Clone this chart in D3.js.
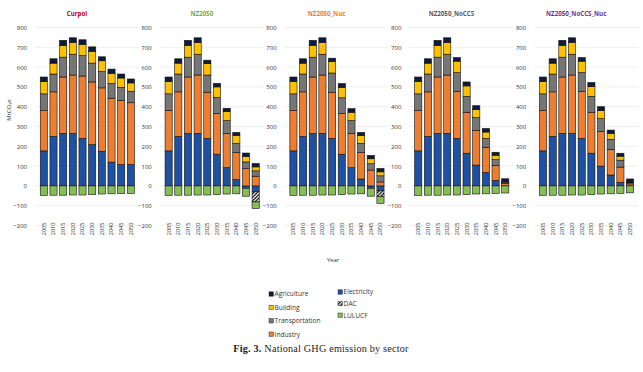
<!DOCTYPE html>
<html>
<head>
<meta charset="utf-8">
<script src="https://cdn.jsdelivr.net/npm/d3@7"></script>
<style>
  body { margin: 0; background: #fff; }
  text { font-family: "Open Sans", "Liberation Sans", sans-serif; }
  text.caption { font-family: "Liberation Serif", "DejaVu Serif", serif; }
</style>
</head>
<body>
<div id="plot"></div>
<script>
let years = [2005, 2010, 2015, 2020, 2025, 2030, 2035, 2040, 2045, 2050]
let scenarios = ["Curpol", "NZ2050", "NZ2050_Nuc", "NZ2050_NoCCS", "NZ2050_NoCCS_Nuc"]
let titleColors = ["#c00000", "#70ad47", "#ed7d31", "#595959", "#7030a0"]
let yTicks = [-200, -100, 0, 100, 200, 300, 400, 500, 600, 700, 800]

// one row per scenario, in the order above
let electricity = [
  [177, 250, 265, 265, 240, 208, 175, 120, 108, 108],
  [177, 250, 265, 265, 240, 160, 92, 32, -12, -30],
  [177, 250, 265, 265, 240, 160, 92, 35, -12, -25],
  [177, 250, 265, 265, 240, 165, 105, 68, 28, 0],
  [177, 250, 265, 265, 240, 165, 100, 55, 18, 0]
]
let industry = [
  [203, 225, 285, 295, 315, 317, 320, 323, 324, 312],
  [203, 225, 285, 295, 233, 205, 173, 136, 87, 49],
  [203, 225, 285, 295, 233, 205, 173, 133, 80, 20],
  [203, 225, 285, 295, 238, 207, 175, 127, 75, 12],
  [203, 225, 285, 295, 238, 207, 175, 130, 77, 10]
]
let transportation = [
  [85, 90, 100, 105, 103, 95, 83, 75, 66, 58],
  [85, 90, 100, 105, 87, 82, 65, 47, 34, 27],
  [85, 90, 100, 105, 97, 80, 65, 47, 32, 31],
  [85, 90, 100, 105, 94, 80, 65, 45, 30, 5],
  [85, 90, 100, 105, 94, 80, 65, 50, 35, 6]
]
let building = [
  [62, 55, 60, 60, 57, 60, 54, 50, 47, 42],
  [62, 55, 60, 60, 58, 53, 45, 40, 28, 20],
  [62, 55, 60, 60, 58, 53, 42, 40, 25, 20],
  [62, 55, 60, 60, 58, 53, 40, 32, 22, 3],
  [62, 55, 60, 60, 58, 50, 40, 30, 20, 3]
]
let agriculture = [
  [23, 22, 25, 23, 23, 22, 20, 22, 20, 20],
  [23, 22, 25, 23, 17, 18, 17, 15, 17, 17],
  [23, 22, 25, 23, 17, 19, 18, 15, 17, 17],
  [23, 22, 25, 23, 18, 20, 20, 18, 15, 16],
  [23, 22, 25, 23, 18, 20, 20, 17, 15, 16]
]
let dac = [
  [0, 0, 0, 0, 0, 0, 0, 0, 0, 0],
  [0, 0, 0, 0, 0, 0, 0, 0, 0, -51],
  [0, 0, 0, 0, 0, 0, 0, 0, 0, -28],
  [0, 0, 0, 0, 0, 0, 0, 0, 0, 0],
  [0, 0, 0, 0, 0, 0, 0, 0, 0, 0]
]
let lulucf = [
  [-48, -47, -47, -46, -46, -44, -41, -40, -39, -38],
  [-48, -47, -47, -46, -46, -44, -41, -40, -40, -33],
  [-48, -47, -47, -46, -46, -44, -41, -40, -40, -35],
  [-48, -47, -47, -46, -46, -44, -41, -40, -38, -36],
  [-48, -47, -47, -46, -46, -44, -41, -40, -38, -35]
]

let keys = ["Electricity", "Industry", "Transportation", "Building", "Agriculture", "DAC", "LULUCF"]
let sources = [electricity, industry, transportation, building, agriculture, dac, lulucf]
let colors = {
  Electricity: "#1f51a3",
  Industry: "#ed7d31",
  Transportation: "#767676",
  Building: "#ffc000",
  Agriculture: "#0d1a3c",
  DAC: "url(#hatch)",
  LULUCF: "#86bd54"
}

let svgWidth = 643
let svgHeight = 372

let svg = d3.select("#plot")
  .append("svg")
  .attr("width", svgWidth)
  .attr("height", svgHeight)

let hatch = svg.append("defs").append("pattern")
  .attr("id", "hatch")
  .attr("patternUnits", "userSpaceOnUse")
  .attr("width", 2.5)
  .attr("height", 2.5)
  .attr("patternTransform", "rotate(45)")
hatch.append("rect").attr("width", 2.5).attr("height", 2.5).attr("fill", "#fff")
hatch.append("rect").attr("width", 1.2).attr("height", 2.5).attr("fill", "#000")

let yScale = d3.scaleLinear()
  .domain([-200, 800])
  .range([225.5, 27.5])

let stack = d3.stack()
  .keys(keys)
  .offset(d3.stackOffsetDiverging)

scenarios.forEach(function(name, s) {
  let x0 = 39 + s * 124.8
  let xScale = d3.scaleBand()
    .domain(years)
    .range([x0, x0 + 96.7])
    .paddingInner(0.26)
    .paddingOuter(0.13)

  let rows = years.map(function(yr, i) {
    let row = { year: yr }
    keys.forEach((k, j) => row[k] = sources[j][s][i])
    return row
  })

  let panel = svg.append("g")

  panel.append("g")
    .selectAll("line")
    .data(yTicks)
    .enter()
    .append("line")
    .attr("x1", x0 - 4)
    .attr("x2", x0 + 100)
    .attr("y1", d => yScale(d))
    .attr("y2", d => yScale(d))
    .attr("stroke", "#e3e3e3")
    .attr("stroke-width", 0.6)

  let yAxis = d3.axisLeft(yScale)
    .tickValues(yTicks)
    .tickSize(0)
    .tickPadding(0)

  panel.append("g")
    .attr("transform", `translate(${x0 - 12}, 0)`)
    .call(yAxis)
    .call(g => g.select(".domain").remove())
    .selectAll("text")
    .attr("font-size", 6)
    .attr("fill", "#333")

  let xAxis = d3.axisBottom(xScale).tickSize(0).tickPadding(0)

  panel.append("g")
    .attr("transform", `translate(0, ${yScale(-200) - 3})`)
    .call(xAxis)
    .call(g => g.select(".domain").remove())
    .selectAll("text")
    .attr("font-size", 5.6)
    .attr("fill", "#333")
    .attr("text-anchor", "end")
    .attr("transform", "rotate(-90)")
    .attr("x", 0)
    .attr("y", 0)
    .attr("dx", 0)
    .attr("dy", "0.35em")

  panel.selectAll(".layer")
    .data(stack(rows))
    .enter()
    .append("g")
    .attr("fill", d => colors[d.key])
    .selectAll("rect")
    .data(d => d.filter(p => p[1] !== p[0]))
    .enter()
    .append("rect")
    .attr("x", d => xScale(d.data.year))
    .attr("width", xScale.bandwidth())
    .attr("y", d => yScale(Math.max(d[0], d[1])))
    .attr("height", d => Math.abs(yScale(d[0]) - yScale(d[1])))
    .attr("stroke", "#111")
    .attr("stroke-width", 0.6)

  panel.append("text")
    .attr("x", x0 + 38)
    .attr("y", 16)
    .attr("text-anchor", "middle")
    .attr("font-size", 6.2)
    .attr("font-weight", "bold")
    .attr("fill", titleColors[s])
    .text(name)
})

svg.append("text")
  .attr("transform", "translate(11, 110) rotate(-90)")
  .attr("text-anchor", "middle")
  .attr("font-size", 6)
  .attr("fill", "#333")
  .text("MtCO₂e")

svg.append("text")
  .attr("x", 333)
  .attr("y", 262)
  .attr("text-anchor", "middle")
  .attr("font-size", 6)
  .attr("fill", "#333")
  .text("Year")

// legend
let legendCols = [
  { keys: ["Agriculture", "Building", "Transportation", "Industry"], x: 269, y: 294, dy: 13.4 },
  { keys: ["Electricity", "DAC", "LULUCF"], x: 338, y: 292, dy: 11.6 }
]
legendCols.forEach(function(col) {
  let items = svg.append("g").selectAll("g")
    .data(col.keys)
    .enter()
    .append("g")
    .attr("transform", (d, i) => `translate(${col.x}, ${col.y + i * col.dy})`)
  items.append("rect")
    .attr("x", 0)
    .attr("y", -2.2)
    .attr("width", 4.4)
    .attr("height", 4.4)
    .attr("fill", d => colors[d])
    .attr("stroke", "#333")
    .attr("stroke-width", 0.5)
  items.append("text")
    .attr("x", 5.6)
    .attr("dy", "0.35em")
    .attr("font-size", 6.6)
    .attr("fill", "#333")
    .text(d => d)
})

let caption = svg.append("text")
  .attr("class", "caption")
  .attr("x", 321)
  .attr("y", 352)
  .attr("text-anchor", "middle")
  .attr("font-size", 10.2)
  .attr("letter-spacing", 0.2)
  .attr("fill", "#222")
caption.append("tspan").attr("font-weight", "bold").text("Fig. 3.")
caption.append("tspan").text("  National GHG emission by sector")
</script>
</body>
</html>
